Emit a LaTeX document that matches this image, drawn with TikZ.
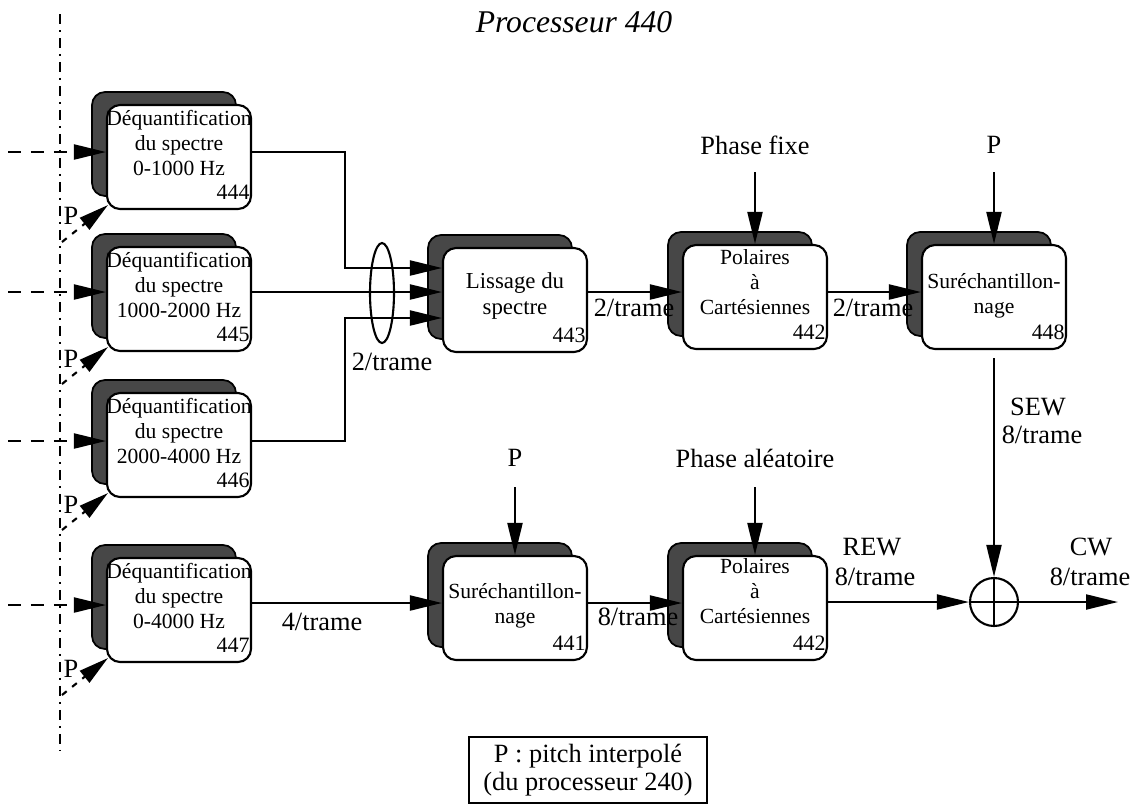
\documentclass[tikz,border=0pt]{standalone}
\usepackage{fontspec}
\setmainfont{Liberation Serif}
\usetikzlibrary{arrows.meta,shadows,shapes.geometric}
\begin{document}
\begin{tikzpicture}[x=0.02cm,y=-0.02cm,
  box/.style={draw, line width=1.2pt, rounded corners=0.26cm, fill=white,
    minimum width=2.88cm, minimum height=2.08cm, inner sep=0pt,
    copy shadow={shadow xshift=-0.3cm, shadow yshift=0.26cm, fill=black!72, draw=black, line width=1pt}},
  btxt/.style={font=\fontsize{12.3}{14}\selectfont, align=center, inner sep=0pt},
  num/.style={font=\fontsize{12.5}{14}\selectfont, anchor=east, inner sep=0pt},
  lbl/.style={font=\fontsize{15}{16}\selectfont, inner sep=0pt},
  arr/.style={line width=1.2pt, -{Triangle[length=0.64cm, width=0.3cm]}},
  dashin/.style={arr, dash pattern=on 0.26cm off 0.2cm},
  parr/.style={line width=1.2pt, dash pattern=on 0.12cm off 0.14cm, -{Triangle[length=0.6cm, width=0.3cm]}},
  plain/.style={line width=1.2pt}]
\useasboundingbox (0,0) rectangle (1134,806);

% title
\node[font=\fontsize{18}{20}\selectfont\itshape, inner sep=0pt] (title) at (574,22) {Processeur 440};

% dash-dot separator
\coordinate (dt) at (60,14);
\coordinate (db) at (60,750);
\draw[line width=1.4pt, dash pattern=on 0.2cm off 0.12cm on 0.04cm off 0.12cm] (dt) -- (db);

% boxes
\node[box] (n444) at (179,157) {};
\node[box] (n445) at (179,299) {};
\node[box] (n446) at (179,445) {};
\node[box] (n447) at (179,610) {};
\node[box] (n443) at (515,300) {};
\node[box] (n442u) at (755,297) {};
\node[box] (n448) at (994,297) {};
\node[box] (n441) at (515,608) {};
\node[box] (n442l) at (755,608) {};

% box texts
\node[btxt] (t444) at ([yshift=0.28cm]n444.center) {Déquantification\\du spectre\\0-1000 Hz};
\node[btxt] (t445) at ([yshift=0.28cm]n445.center) {Déquantification\\du spectre\\1000-2000 Hz};
\node[btxt] (t446) at ([yshift=0.28cm]n446.center) {Déquantification\\du spectre\\2000-4000 Hz};
\node[btxt] (t447) at ([yshift=0.28cm]n447.center) {Déquantification\\du spectre\\0-4000 Hz};
\node[btxt, font=\fontsize{13}{14.5}\selectfont] (t443) at ([yshift=0.08cm]n443.center) {Lissage du\\spectre};
\node[btxt] (t442u) at ([yshift=0.3cm]n442u.center) {Polaires\\à\\Cartésiennes};
\node[btxt] (t442l) at ([yshift=0.34cm]n442l.center) {Polaires\\à\\Cartésiennes};
\node[btxt] (t448) at ([yshift=0.02cm]n448.center) {Suréchantillon-\\nage};
\node[btxt] (t441) at ([yshift=0.04cm]n441.center) {Suréchantillon-\\nage};

\foreach \b/\k in {n444/444,n445/445,n446/446,n447/447,n443/443,n442u/442,n448/448,n441/441,n442l/442}
  \node[num] (k\b) at ([xshift=-0.04cm,yshift=0.36cm]\b.south east) {\k};

% input dashed arrows
\coordinate (in444) at (8,152);
\coordinate (in445) at (8,292);
\coordinate (in446) at (8,441);
\coordinate (in447) at (8,605);
\draw[dashin] (in444) -- (n444.west |- in444);
\draw[dashin] (in445) -- (n445.west |- in445);
\draw[dashin] (in446) -- (n446.west |- in446);
\draw[dashin] (in447) -- (n447.west |- in447);

% P arrows on the left
\coordinate (pt444) at (62,242);
\coordinate (pt445) at (62,384);
\coordinate (pt446) at (62,530);
\coordinate (pt447) at (62,695);
\draw[parr] (pt444) -- ([xshift=0.04cm,yshift=0.1cm]n444.south west);
\draw[parr] (pt445) -- ([xshift=0.04cm,yshift=0.1cm]n445.south west);
\draw[parr] (pt446) -- ([xshift=0.04cm,yshift=0.1cm]n446.south west);
\draw[parr] (pt447) -- ([xshift=0.04cm,yshift=0.1cm]n447.south west);
\node[lbl] (p444) at (71,216) {P};
\node[lbl] (p445) at (71,359) {P};
\node[lbl] (p446) at (71,505) {P};
\node[lbl] (p447) at (71,669) {P};

% upper row connections
\coordinate (j1) at (345,152);
\coordinate (j2) at (345,441);
\coordinate (e1) at (0,268);
\coordinate (e2) at (0,292);
\coordinate (e3) at (0,318);
\draw[arr] (n444.east |- j1) -- (j1) |- (n443.west |- e1);
\draw[arr] (n445.east |- e2) -- (n443.west |- e2);
\draw[arr] (n446.east |- j2) -- (j2) |- (n443.west |- e3);
\node[draw, ellipse, line width=1.2pt, minimum width=0.48cm, minimum height=2cm, inner sep=0pt] (ell) at (382,293) {};
\node[lbl] (l1) at (392,362) {2/trame};

\draw[arr] (n443.east |- e2) -- (n442u.west |- e2);
\node[lbl] (l2) at (634,308) {2/trame};
\draw[arr] (n442u.east |- e2) -- (n448.west |- e2);
\node[lbl] (l3) at (873,308) {2/trame};

\node[lbl] (pf) at (755,145) {Phase fixe};
\coordinate (pfs) at (755,172);
\draw[arr] (pfs) -- (n442u.north);
\node[lbl] (p448) at (994,145) {P};
\coordinate (p448s) at (994,172);
\draw[arr] (p448s) -- (n448.north);

% sum
\node[draw, circle, line width=1.2pt, minimum size=0.96cm, inner sep=0pt] (sum) at (994,602) {};
\draw[plain] (sum.north) -- (sum.south);
\draw[plain] (sum.west) -- (sum.east);
\draw[arr, shorten <=0.16cm] (n448.south) -- (sum.north);
\node[lbl] (sew) at (1038,407) {SEW};
\node[lbl] (sewr) at (1042,435) {8/trame};

% lower row
\coordinate (r2) at (0,603);
\draw[arr] (n447.east |- r2) -- (n441.west |- r2);
\node[lbl] (l4) at (322,622) {4/trame};
\draw[arr] (n441.east |- r2) -- (n442l.west |- r2);
\node[lbl] (l5) at (638,617) {8/trame};
\draw[arr] (n442l.east |- sum) -- (sum.west);
\node[lbl] (rew) at (872,547) {REW};
\node[lbl] (rewr) at (875,577) {8/trame};
\coordinate (out) at (1118,602);
\draw[arr] (sum.east) -- (out);
\node[lbl] (cw) at (1091,547) {CW};
\node[lbl] (cwr) at (1090,577) {8/trame};

\node[lbl] (p441) at (515,458) {P};
\coordinate (p441s) at (515,487);
\draw[arr] (p441s) -- (n441.north);
\node[lbl] (pa) at (755,458) {Phase aléatoire};
\coordinate (pas) at (755,487);
\draw[arr] (pas) -- (n442l.north);

% legend
\node[draw, line width=1pt, align=center, font=\fontsize{15}{16}\selectfont, minimum width=4.76cm, minimum height=1.32cm, inner sep=0pt] (leg) at (588,770) {P : pitch interpolé\\(du processeur 240)};
\end{tikzpicture}
\end{document}
